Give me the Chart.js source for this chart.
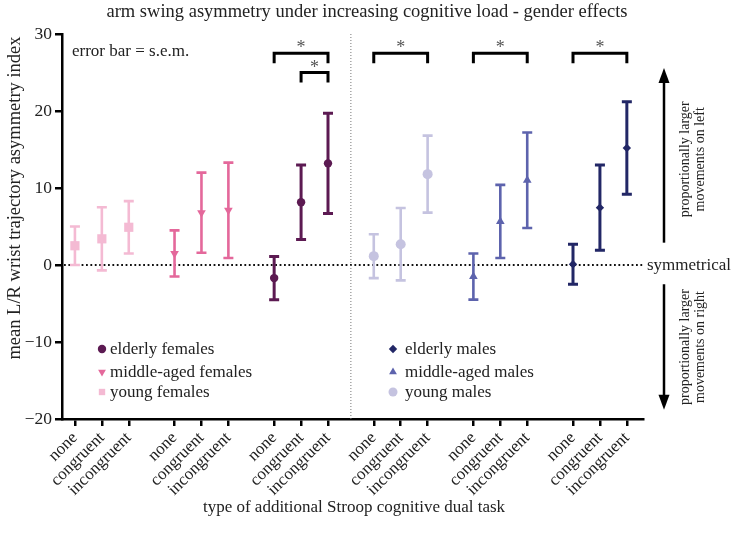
<!DOCTYPE html>
<html>
<head>
<meta charset="utf-8">
<script src="https://cdn.jsdelivr.net/npm/chart.js@4.4.1/dist/chart.umd.min.js"></script>
<style>
  html, body { margin: 0; padding: 0; background: #fff; }
</style>
</head>
<body>
<canvas id="chart" width="735" height="538"></canvas>
<script>
// tick labels along x, one per condition
const conditions = ["none", "congruent", "incongruent"];
const yTicks = [-20, -10, 0, 10, 20, 30];

// means and s.e.m.
const youngFemalesMean = [2.5, 3.4, 4.9];
const youngFemalesSem = [2.5, 4.1, 3.4];
const middleFemalesMean = [1.5, 6.8, 7.1];
const middleFemalesSem = [3.0, 5.2, 6.2];
const elderlyFemalesMean = [-1.7, 8.15, 13.2];
const elderlyFemalesSem = [2.8, 4.85, 6.5];
const youngMalesMean = [1.15, 2.7, 11.8];
const youngMalesSem = [2.85, 4.7, 5.0];
const middleMalesMean = [-1.5, 5.65, 11.0];
const middleMalesSem = [3.0, 4.75, 6.2];
const elderlyMalesMean = [0.1, 7.45, 15.2];
const elderlyMalesSem = [2.6, 5.55, 6.0];

// significance brackets: [group, from condition, to condition, height]
const sigBrackets = [[2, 0, 2, 27.5], [2, 1, 2, 25.0], [3, 0, 2, 27.5], [4, 0, 2, 27.5], [5, 0, 2, 27.5]];

const FONT = "'Liberation Serif', 'DejaVu Serif', serif";
const groupStep = 3.7;
const xPos = (g, i) => g * groupStep + i;

const groups = [
  { label: "young females", mean: youngFemalesMean, sem: youngFemalesSem, color: "#f4bad3", style: "rect", radius: 6.5, rot: 0, lw: 2.6 },
  { label: "middle-aged females", mean: middleFemalesMean, sem: middleFemalesSem, color: "#e4689b", style: "triangle", radius: 5, rot: 180, lw: 2.6 },
  { label: "elderly females", mean: elderlyFemalesMean, sem: elderlyFemalesSem, color: "#5c1a52", style: "circle", radius: 4.2, rot: 0, lw: 3 },
  { label: "young males", mean: youngMalesMean, sem: youngMalesSem, color: "#c5c3e0", style: "circle", radius: 5, rot: 0, lw: 2.6 },
  { label: "middle-aged males", mean: middleMalesMean, sem: middleMalesSem, color: "#5d63ad", style: "triangle", radius: 5, rot: 0, lw: 2.6 },
  { label: "elderly males", mean: elderlyMalesMean, sem: elderlyMalesSem, color: "#222766", style: "rectRot", radius: 4.2, rot: 0, lw: 3 }
];

const tickPositions = [];
groups.forEach((g, gi) => conditions.forEach((c, i) => tickPositions.push(xPos(gi, i))));

function marker(ctx, style, x, y, r, color, rot) {
  ctx.save();
  ctx.fillStyle = color;
  ctx.translate(x, y);
  ctx.rotate((rot || 0) * Math.PI / 180);
  ctx.beginPath();
  if (style === "rect") {
    const s = r * Math.SQRT1_2;
    ctx.rect(-s, -s, 2 * s, 2 * s);
  } else if (style === "triangle") {
    ctx.moveTo(0, -r);
    ctx.lineTo(r * 0.87, r * 0.5);
    ctx.lineTo(-r * 0.87, r * 0.5);
    ctx.closePath();
  } else if (style === "rectRot") {
    ctx.moveTo(0, -r); ctx.lineTo(r, 0); ctx.lineTo(0, r); ctx.lineTo(-r, 0);
    ctx.closePath();
  } else {
    ctx.arc(0, 0, r, 0, Math.PI * 2);
  }
  ctx.fill();
  ctx.restore();
}

const extras = {
  id: "extras",
  beforeDatasetsDraw(chart) {
    const { ctx, chartArea, scales: { x, y } } = chart;
    ctx.save();
    // symmetrical line
    const y0 = y.getPixelForValue(0);
    ctx.strokeStyle = "#111";
    ctx.lineWidth = 1.8;
    ctx.setLineDash([1.8, 2.6]);
    ctx.beginPath();
    ctx.moveTo(chartArea.left + 2, y0);
    ctx.lineTo(chartArea.right, y0);
    ctx.stroke();
    // female / male divider
    const xd = x.getPixelForValue((xPos(2, 2) + xPos(3, 0)) / 2);
    ctx.strokeStyle = "#777";
    ctx.lineWidth = 1;
    ctx.setLineDash([1, 2]);
    ctx.beginPath();
    ctx.moveTo(xd, chartArea.top);
    ctx.lineTo(xd, chartArea.bottom);
    ctx.stroke();
    ctx.setLineDash([]);
    // error bars
    chart.data.datasets.forEach((ds, di) => {
      const meta = chart.getDatasetMeta(di);
      ds.sem.forEach((s, i) => {
        const pt = meta.data[i];
        const top = y.getPixelForValue(ds.data[i].y + s);
        const bot = y.getPixelForValue(ds.data[i].y - s);
        ctx.strokeStyle = ds.backgroundColor;
        ctx.lineWidth = ds.barWidth;
        ctx.beginPath();
        ctx.moveTo(pt.x, top); ctx.lineTo(pt.x, bot);
        ctx.moveTo(pt.x - 5, top); ctx.lineTo(pt.x + 5, top);
        ctx.moveTo(pt.x - 5, bot); ctx.lineTo(pt.x + 5, bot);
        ctx.stroke();
      });
    });
    ctx.restore();
  },
  afterDraw(chart) {
    const { ctx, chartArea, scales: { x, y } } = chart;
    ctx.save();
    ctx.fillStyle = "#222";
    // titles
    ctx.font = "18.5px " + FONT;
    ctx.textAlign = "center";
    ctx.textBaseline = "middle";
    ctx.fillText("arm swing asymmetry under increasing cognitive load - gender effects", 367, 12);
    ctx.font = "17px " + FONT;
    ctx.fillText("type of additional Stroop cognitive dual task", 354, 508);
    ctx.save();
    ctx.translate(15, 198);
    ctx.rotate(-Math.PI / 2);
    ctx.font = "18.5px " + FONT;
    ctx.fillText("mean L/R wrist trajectory asymmetry index", 0, 0);
    ctx.restore();

    ctx.textAlign = "left";
    ctx.font = "17px " + FONT;
    ctx.fillText("error bar = s.e.m.", 72, 52);
    ctx.fillText("symmetrical", 647, y.getPixelForValue(0) + 1);

    // significance brackets
    ctx.strokeStyle = "#000";
    ctx.lineWidth = 3;
    sigBrackets.forEach(([g, a, b, h]) => {
      const xa = x.getPixelForValue(xPos(g, a));
      const xb = x.getPixelForValue(xPos(g, b));
      const yt = y.getPixelForValue(h);
      const yl = y.getPixelForValue(h - 1.3);
      ctx.beginPath();
      ctx.moveTo(xa, yl); ctx.lineTo(xa, yt); ctx.lineTo(xb, yt); ctx.lineTo(xb, yl);
      ctx.stroke();
      ctx.fillStyle = "#555";
      ctx.textAlign = "center";
      ctx.textBaseline = "alphabetic";
      ctx.font = "18px " + FONT;
      ctx.fillText("*", (xa + xb) / 2, yt);
    });

    // direction arrows
    const ax = 664;
    const arrow = (from, to) => {
      const p1 = y.getPixelForValue(from), p2 = y.getPixelForValue(to);
      const dir = Math.sign(p2 - p1);
      ctx.strokeStyle = "#000";
      ctx.fillStyle = "#000";
      ctx.lineWidth = 2.5;
      ctx.beginPath();
      ctx.moveTo(ax, p1); ctx.lineTo(ax, p2 - dir * 10);
      ctx.stroke();
      ctx.beginPath();
      ctx.moveTo(ax, p2); ctx.lineTo(ax - 5.5, p2 - dir * 15); ctx.lineTo(ax + 5.5, p2 - dir * 15);
      ctx.closePath();
      ctx.fill();
      return (p1 + p2) / 2;
    };
    const upMid = arrow(2.9, 25.6);
    const dnMid = arrow(-2.5, -18.8);
    ctx.fillStyle = "#222";
    ctx.font = "14px " + FONT;
    ctx.textAlign = "center";
    ctx.textBaseline = "middle";
    [[upMid + 4, ["proportionally larger", "movements on left"]], [dnMid, ["proportionally larger", "movements on right"]]].forEach(([cy, lines]) => {
      ctx.save();
      ctx.translate(685, cy);
      ctx.rotate(-Math.PI / 2);
      ctx.fillText(lines[0], 0, 0);
      ctx.fillText(lines[1], 0, 15);
      ctx.restore();
    });

    // legends
    ctx.font = "17px " + FONT;
    ctx.textAlign = "left";
    ctx.textBaseline = "middle";
    const rows = [349, 372, 392];
    [[2, 1, 0], [5, 4, 3]].forEach((order, col) => {
      const mx = col === 0 ? 102 : 393;
      order.forEach((gi, r) => {
        const g = groups[gi];
        marker(ctx, g.style, mx, rows[r], Math.min(g.radius, 4.5), g.color, g.rot);
        ctx.fillStyle = "#222";
        ctx.fillText(g.label, mx + 8 + (col === 1 ? 4 : 0), rows[r] + 1);
      });
    });
    ctx.restore();
  }
};

new Chart(document.getElementById("chart"), {
  type: "scatter",
  data: {
    datasets: groups.map((g, gi) => ({
      label: g.label,
      data: g.mean.map((m, i) => ({ x: xPos(gi, i), y: m })),
      sem: g.sem,
      barWidth: g.lw,
      backgroundColor: g.color,
      borderColor: g.color,
      pointStyle: g.style,
      pointRotation: g.rot,
      pointRadius: g.radius,
      pointHoverRadius: g.radius,
      pointBorderWidth: 0
    }))
  },
  options: {
    responsive: false,
    animation: false,
    layout: { padding: { top: 34, right: 92, left: 0, bottom: 0 } },
    plugins: { legend: { display: false }, tooltip: { enabled: false } },
    scales: {
      x: {
        type: "linear",
        min: -0.48,
        max: 21.1,
        afterBuildTicks: (scale) => { scale.ticks = tickPositions.map((v) => ({ value: v })); },
        afterFit: (scale) => { scale.height = 119; },
        ticks: {
          minRotation: 45,
          maxRotation: 45,
          autoSkip: false,
          padding: 2,
          color: "#222",
          font: { family: FONT, size: 17 },
          callback: (v, i) => conditions[i % 3]
        },
        grid: { drawOnChartArea: false, drawTicks: true, tickLength: 7, color: "#000", lineWidth: 2.5 },
        border: { display: true, color: "#000", width: 2.5 }
      },
      y: {
        min: -20,
        max: 30,
        afterBuildTicks: (scale) => { scale.ticks = yTicks.map((v) => ({ value: v })); },
        afterFit: (scale) => { scale.width = 62; },
        ticks: {
          padding: 3,
          color: "#222",
          font: { family: FONT, size: 17.5 },
          callback: (v) => String(v).replace("-", "\u2212")
        },
        grid: { drawOnChartArea: false, drawTicks: true, tickLength: 7, color: "#000", lineWidth: 2.5 },
        border: { display: true, color: "#000", width: 2.5 }
      }
    }
  },
  plugins: [extras]
});
</script>
</body>
</html>
